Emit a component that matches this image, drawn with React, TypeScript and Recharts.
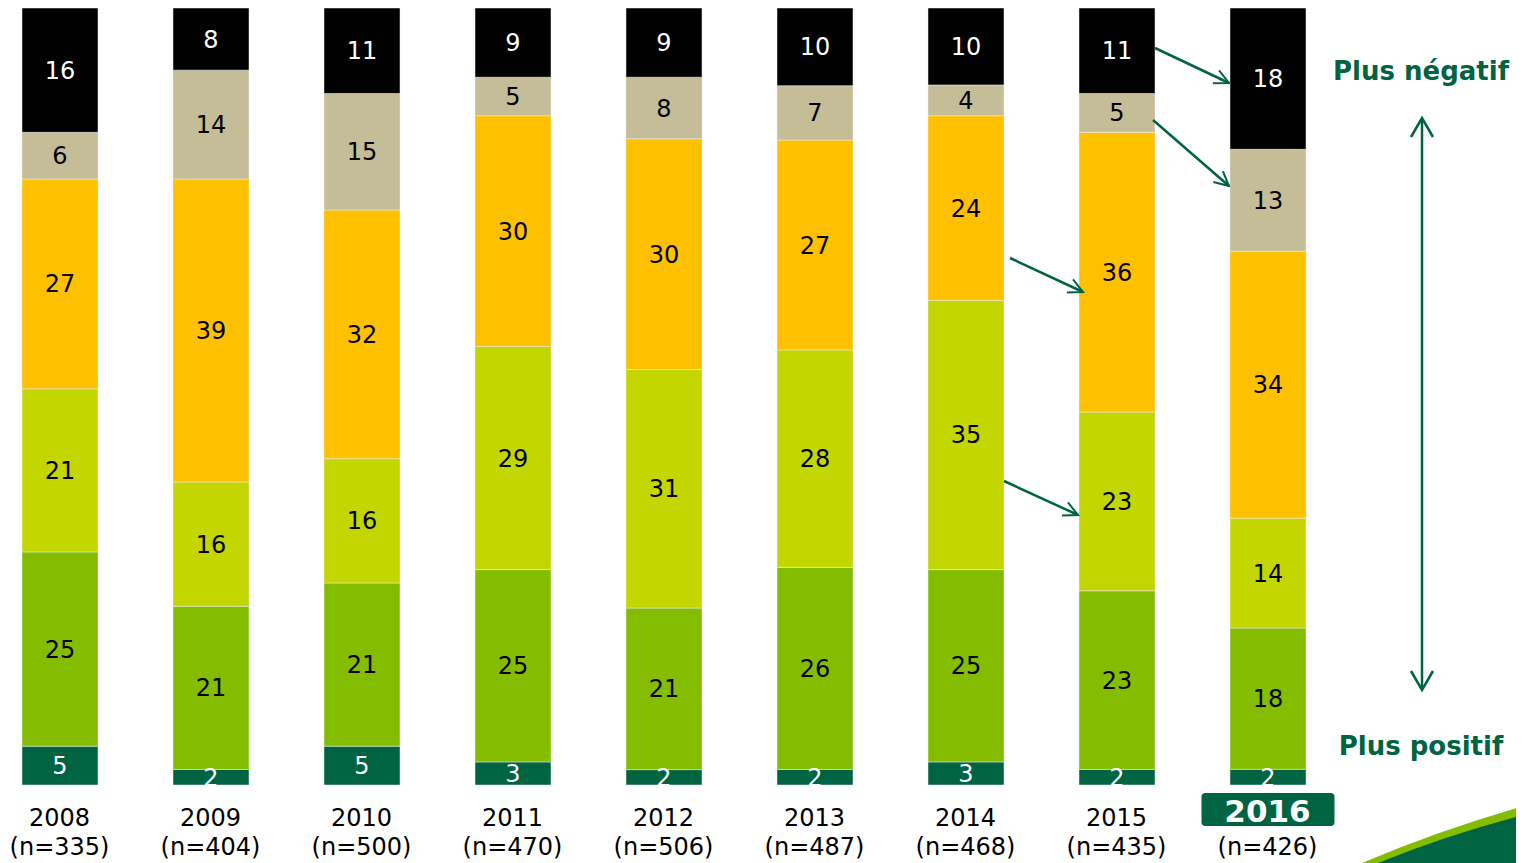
import { BarChart, Bar, XAxis, YAxis, LabelList } from "recharts";

const YEARS = ["2008", "2009", "2010", "2011", "2012", "2013", "2014", "2015", "2016"];
const SAMPLE_N = [335, 404, 500, 470, 506, 487, 468, 435, 426];

// bottom (most positive) to top (most negative)
const TRES_POSITIF = [5, 2, 5, 3, 2, 2, 3, 2, 2];
const POSITIF = [25, 21, 21, 25, 21, 26, 25, 23, 18];
const PLUTOT_POSITIF = [21, 16, 16, 29, 31, 28, 35, 23, 14];
const PLUTOT_NEGATIF = [27, 39, 32, 30, 30, 27, 24, 36, 34];
const NEGATIF = [6, 14, 15, 5, 8, 7, 4, 5, 13];
const TRES_NEGATIF = [16, 8, 11, 9, 9, 10, 10, 11, 18];

const FONT = "'DejaVu Sans', Verdana, sans-serif";
const DARK_GREEN = "#006341";

const SERIES = [
  { key: "tresPositif", values: TRES_POSITIF, color: "#006341", label: "#fff" },
  { key: "positif", values: POSITIF, color: "#84bd00", label: "#000" },
  { key: "plutotPositif", values: PLUTOT_POSITIF, color: "#c4d600", label: "#000" },
  { key: "plutotNegatif", values: PLUTOT_NEGATIF, color: "#ffc000", label: "#000" },
  { key: "negatif", values: NEGATIF, color: "#c4bd97", label: "#000" },
  { key: "tresNegatif", values: TRES_NEGATIF, color: "#000000", label: "#fff" },
];

const data = YEARS.map((year, i) => {
  const row: Record<string, string | number> = { year };
  for (const s of SERIES) row[s.key] = s.values[i];
  return row;
});

function YearTick(props: any) {
  const { x, y, payload } = props;
  const i = YEARS.indexOf(payload.value);
  const last = i === YEARS.length - 1;
  return (
    <g>
      {last ? (
        <g>
          <rect x={x - 66} y={y + 8} width={133} height={33} rx={4} fill={DARK_GREEN} />
          <text x={x} y={y + 37} textAnchor="middle" fill="#fff" fontSize={31} fontWeight="bold" fontFamily={FONT}>
            {payload.value}
          </text>
        </g>
      ) : (
        <text x={x} y={y + 41} textAnchor="middle" fill="#000" fontSize={24} fontFamily={FONT}>
          {payload.value}
        </text>
      )}
      <text x={x} y={y + 70} textAnchor="middle" fill="#000" fontSize={24} fontFamily={FONT}>
        (n={SAMPLE_N[i]})
      </text>
    </g>
  );
}

function Overlay() {
  const arrows = [
    [1155, 48, 1229, 83],
    [1153, 120, 1229, 186],
    [1010, 258, 1083, 292],
    [1004, 481, 1078, 515],
  ];
  return (
    <svg
      width={1524}
      height={863}
      style={{ position: "absolute", left: -8, top: -8, pointerEvents: "none" }}
    >
      <defs>
        <marker id="chev" viewBox="0 0 20 20" refX="18" refY="10" markerWidth="18" markerHeight="18" orient="auto" markerUnits="userSpaceOnUse">
          <path d="M2,2 L18,10 L2,18" fill="none" stroke={DARK_GREEN} strokeWidth={2.2} />
        </marker>
      </defs>
      {arrows.map(([x1, y1, x2, y2], i) => (
        <line key={i} x1={x1} y1={y1} x2={x2} y2={y2} stroke={DARK_GREEN} strokeWidth={2.5} markerEnd="url(#chev)" />
      ))}
      <line x1={1422} y1={120} x2={1422} y2={688} stroke={DARK_GREEN} strokeWidth={2.5} />
      <polyline points="1411,137 1422,118 1433,137" fill="none" stroke={DARK_GREEN} strokeWidth={2.5} />
      <polyline points="1411,671 1422,690 1433,671" fill="none" stroke={DARK_GREEN} strokeWidth={2.5} />
      <text x={1421} y={80} textAnchor="middle" fill={DARK_GREEN} fontSize={26} fontWeight="bold" fontFamily={FONT}>
        Plus négatif
      </text>
      <text x={1421} y={755} textAnchor="middle" fill={DARK_GREEN} fontSize={26} fontWeight="bold" fontFamily={FONT}>
        Plus positif
      </text>
      <path d="M1362,863 Q1440,830 1524,806 L1524,863 Z" fill="#84bd00" />
      <path d="M1378,863 Q1450,834 1524,815 L1524,863 Z" fill={DARK_GREEN} />
    </svg>
  );
}

export default function App() {
  return (
    <div style={{ position: "relative", width: 1508, height: 855, fontFamily: FONT }}>
      <div style={{ position: "absolute", left: -24.5, top: 0 }}>
        <BarChart
          width={1359}
          height={855}
          data={data}
          stackOffset="expand"
          margin={{ top: 0, right: 0, left: 0, bottom: 0 }}
          barSize={76}
        >
          <XAxis
            dataKey="year"
            axisLine={false}
            tickLine={false}
            tickSize={0}
            tickMargin={0}
            interval={0}
            height={78}
            tick={<YearTick />}
          />
          <YAxis hide domain={[0, 1]} />
          {SERIES.map((s) => (
            <Bar key={s.key} dataKey={s.key} stackId="a" fill={s.color} stroke="#eeeeee" strokeWidth={0.5} isAnimationActive={false}>
              <LabelList dataKey={s.key} position="center" fill={s.label} fontSize={24} fontFamily={FONT} />
            </Bar>
          ))}
        </BarChart>
      </div>
      <Overlay />
    </div>
  );
}
